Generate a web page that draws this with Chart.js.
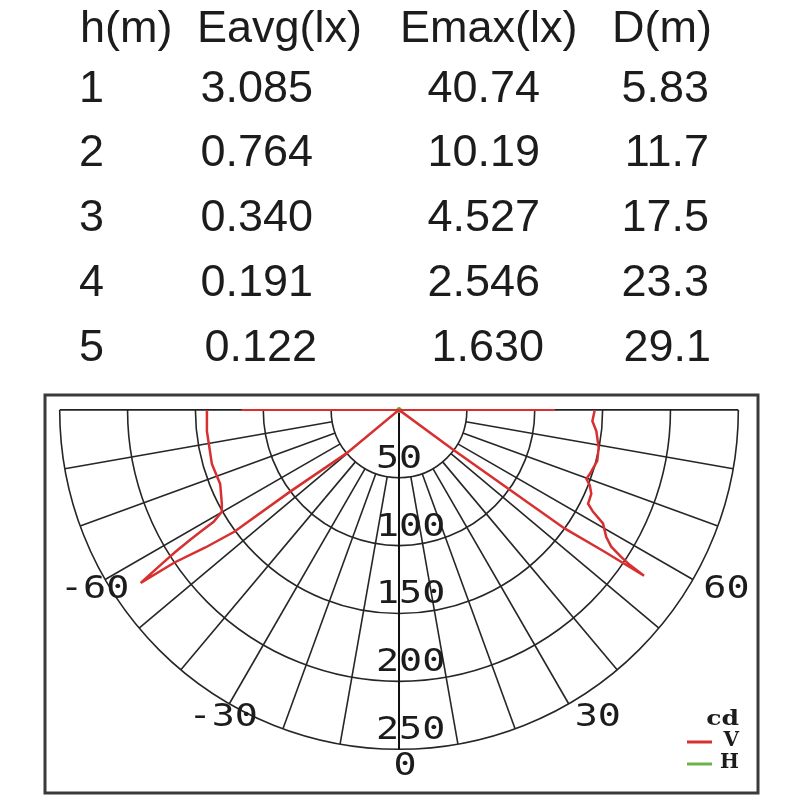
<!DOCTYPE html>
<html>
<head>
<meta charset="utf-8">
<style>
    html, body { margin: 0; padding: 0; background: #fff; }
    #wrap { position: relative; width: 800px; height: 800px; overflow: hidden; }
    #polarChart { position: absolute; left: 0; top: 0; }
    .cell {
        position: absolute;
        font-family: "Liberation Sans", Arial, sans-serif;
        font-size: 45px;
        line-height: 45px;
        color: #1c1c1c;
        white-space: nowrap;
    }
</style>
<script src="https://cdn.jsdelivr.net/npm/chart.js@4.4.2/dist/chart.umd.min.js"></script>
</head>
<body>
<div id="wrap">
    <canvas id="polarChart" width="800" height="800"></canvas>
    <div id="table"></div>
</div>
<script>
// table values
const tableHeaders = ['h(m)', 'Eavg(lx)', 'Emax(lx)', 'D(m)'];
const heights = ['1', '2', '3', '4', '5'];
const eavg = ['3.085', '0.764', '0.340', '0.191', '0.122'];
const emax = ['40.74', '10.19', '4.527', '2.546', '1.630'];
const dist = ['5.83', '11.7', '17.5', '23.3', '29.1'];

// polar diagram values (angle in degrees, intensity in cd)
const ringValues = [50, 100, 150, 200, 250];
const spokeAngles = [-90, -80, -70, -60, -50, -40, -30, -20, -10, 0, 10, 20, 30, 40, 50, 60, 70, 80, 90];
const angleLabels = [-60, -30, 0, 30, 60];

const vAngles = [-90, -83.7, -73.9, -67.5, -62.1, -60.1, -58.9, -58.5, -58.1, -57.6, -57.2, -56.7, -56.2,
    -55.8, -54.6, -53.5, -53.1, -50.4, -50, 0, 53, 53.6, 54.2, 54.4, 55.4, 55.9,
    56.1, 56.5, 57.2, 58.5, 59.5, 60.9, 62.3, 63.6, 66.4, 68.4, 69.8, 71.4, 75.6, 79.3, 83.9, 86.7, 90];
const vValues = [141.5, 142.4, 143.5, 142.6, 147.7, 150.6, 159.5, 171, 182, 195, 204, 216, 229,
    200, 175, 151, 100, 50, 0, 0, 0, 49, 100, 150, 184, 218,
    205, 196, 186, 179, 176, 172, 161.5, 155.5, 154.6, 151.2, 147.1, 148.3, 150.8, 149.7, 146.2, 142.7, 144.2];

// red segment along the 90 degree line at the top
const vTopAngles = [-90, 90];
const vTopValues = [116, 115];

const hAngles = [-90, -60, -30, 0, 30, 60, 90];
const hValues = [0, 0, 0, 0, 0, 0, 0];

// ---- table as real text ----
const table = document.getElementById('table');
function addCell(text, x, base, align) {
    const d = document.createElement('div');
    d.className = 'cell';
    d.textContent = text;
    d.style.top = (base - 38) + 'px';
    if (align === 'right') {
        d.style.left = (x - 200) + 'px';
        d.style.width = '200px';
        d.style.textAlign = 'right';
    } else {
        d.style.left = x + 'px';
    }
    table.appendChild(d);
}
const headerX = [80, 197, 400, 612];
const colRight = [313, 540, 709];
const rowBase = [102, 166, 231, 296, 361];
const rowShift = [0, 0, 0, 0, 4];
tableHeaders.forEach((h, i) => addCell(h, headerX[i], 42, 'left'));
heights.forEach((h, r) => {
    addCell(h, 79, rowBase[r], 'left');
    addCell(eavg[r], colRight[0] + rowShift[r], rowBase[r], 'right');
    addCell(emax[r], colRight[1] + rowShift[r], rowBase[r], 'right');
    addCell(dist[r], colRight[2] + rowShift[r] / 2, rowBase[r], 'right');
});

// ---- polar chart on linear x/y scales ----
const K = 1.371;          // px per cd
const CX = 399, CY = 410; // pole position in px

const rad = d => d * Math.PI / 180;
function toXY(angles, values) {
    return angles.map((a, i) => ({ x: values[i] * Math.sin(rad(a)), y: -values[i] * Math.cos(rad(a)) }));
}

const red = 'rgb(214, 48, 48)';
const green = 'rgb(110, 178, 76)';

function drawText(ctx, text, x, y, font, align, sx) {
    ctx.save();
    ctx.translate(x, y);
    ctx.scale(sx || 1, 1);
    ctx.font = font;
    ctx.textAlign = align;
    ctx.textBaseline = 'alphabetic';
    ctx.fillText(text, 0, 0);
    ctx.restore();
}

const polarGrid = {
    id: 'polarGrid',
    beforeDatasetsDraw(chart) {
        const ctx = chart.ctx, xs = chart.scales.x, ys = chart.scales.y;
        const P = (a, v) => [xs.getPixelForValue(v * Math.sin(rad(a))), ys.getPixelForValue(-v * Math.cos(rad(a)))];
        const cx = xs.getPixelForValue(0), cy = ys.getPixelForValue(0);
        const R = v => xs.getPixelForValue(v) - cx;
        const rMax = ringValues[ringValues.length - 1];

        ctx.save();
        // frame
        ctx.strokeStyle = '#3a3a3a';
        ctx.lineWidth = 3;
        ctx.strokeRect(45, 395, 713, 398);

        // rings
        ctx.strokeStyle = '#262626';
        ctx.lineWidth = 1.6;
        ringValues.forEach(v => {
            ctx.beginPath();
            ctx.arc(cx, cy, R(v), 0, Math.PI);
            ctx.stroke();
        });

        // spokes from the first ring outwards
        spokeAngles.forEach(a => {
            if (a === 0 || Math.abs(a) === 90) return;
            const [x1, y1] = P(a, ringValues[0]);
            const [x2, y2] = P(a, rMax);
            ctx.beginPath();
            ctx.moveTo(x1, y1);
            ctx.lineTo(x2, y2);
            ctx.stroke();
        });

        // 90 degree line across the top
        ctx.lineWidth = 1.8;
        ctx.strokeStyle = '#222';
        const [lx, ly] = P(-90, rMax), [rx, ry] = P(90, rMax);
        ctx.beginPath();
        ctx.moveTo(lx, ly);
        ctx.lineTo(rx, ry);
        ctx.stroke();

        // 0 degree axis
        const [bx, by] = P(0, rMax);
        ctx.lineWidth = 2;
        ctx.strokeStyle = '#111';
        ctx.beginPath();
        ctx.moveTo(cx, cy);
        ctx.lineTo(bx, by);
        ctx.stroke();

        // ring labels
        ctx.fillStyle = '#1c1c1c';
        const monoFont = '32px "DejaVu Sans Mono", monospace';
        ringValues.forEach(v => {
            drawText(ctx, String(v), 376, cy + R(v) - 10, monoFont, 'left', 1.2);
        });

        // angle labels
        angleLabels.forEach(a => {
            const [x, y] = P(a, 259);
            const dx = a > 0 ? 23 : (a === 0 ? 6 : 0);
            drawText(ctx, String(a), x + dx, y + (a === 0 ? 14 : 12), monoFont, 'center', 1.2);
        });
        ctx.restore();
    },
    afterDatasetsDraw(chart) {
        const ctx = chart.ctx;
        ctx.save();
        ctx.fillStyle = '#1c1c1c';
        const serif = 'bold 20px "DejaVu Serif", serif';
        drawText(ctx, 'cd', 739, 725, serif, 'right', 1.25);
        drawText(ctx, 'V', 739, 746, serif, 'right', 1);
        drawText(ctx, 'H', 739, 768, serif, 'right', 1);
        ctx.lineWidth = 3;
        ctx.strokeStyle = red;
        ctx.beginPath(); ctx.moveTo(687, 742); ctx.lineTo(712, 742); ctx.stroke();
        ctx.strokeStyle = green;
        ctx.beginPath(); ctx.moveTo(687, 764); ctx.lineTo(712, 764); ctx.stroke();
        ctx.restore();
    }
};

const config = {
    type: 'scatter',
    data: {
        datasets: [
            {
                label: 'V',
                data: toXY(vAngles, vValues),
                showLine: true,
                borderColor: red,
                borderWidth: 2.5,
                pointRadius: 0,
                tension: 0
            },
            {
                label: 'V top',
                data: toXY(vTopAngles, vTopValues),
                showLine: true,
                borderColor: red,
                borderWidth: 2,
                pointRadius: 0
            },
            {
                label: 'H',
                data: toXY(hAngles, hValues),
                showLine: true,
                borderColor: green,
                borderWidth: 2,
                pointRadius: 2.5,
                pointBackgroundColor: green,
                pointBorderWidth: 0
            }
        ]
    },
    options: {
        responsive: false,
        animation: false,
        devicePixelRatio: 1,
        layout: { padding: 0 },
        plugins: {
            legend: { display: false },
            tooltip: { enabled: false }
        },
        scales: {
            x: { type: 'linear', min: -CX / K, max: (800 - CX) / K, display: false },
            y: { type: 'linear', min: -(800 - CY) / K, max: CY / K, display: false }
        }
    },
    plugins: [polarGrid]
};

new Chart(document.getElementById('polarChart'), config);
</script>
</body>
</html>
